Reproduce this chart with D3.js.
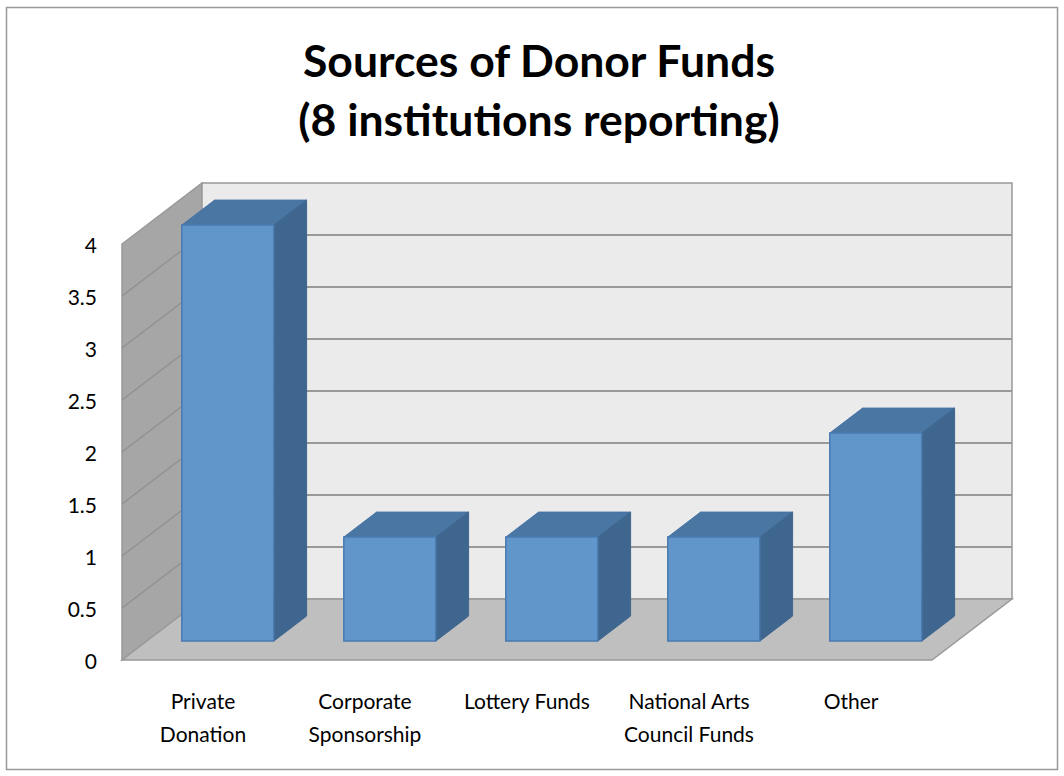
<!DOCTYPE html>
<html>
<head>
<meta charset="utf-8">
<script src="https://cdn.jsdelivr.net/npm/d3@7"></script>
<style>
  html, body { margin: 0; padding: 0; background: #fff; }
  svg { display: block; }
  text { font-family: Lato, "Open Sans", sans-serif; fill: #000; }
</style>
</head>
<body>
<svg id="chart" width="1064" height="776"></svg>
<script>
// Chart data
const categories = [
  ["Private", "Donation"],
  ["Corporate", "Sponsorship"],
  ["Lottery Funds"],
  ["National Arts", "Council Funds"],
  ["Other"]
];
const values = [4, 1, 1, 1, 2];
const tickValues = [0, 0.5, 1, 1.5, 2, 2.5, 3, 3.5, 4];
const titleLines = ["Sources of Donor Funds", "(8 institutions reporting)"];

const svg = d3.select("#chart");

// Frame
svg.append("rect")
  .attr("x", 6.5).attr("y", 7.5).attr("width", 1051).attr("height", 762)
  .attr("fill", "#fff").attr("stroke", "#999").attr("stroke-width", 1.5);

// Title
svg.append("g").selectAll("text").data(titleLines).join("text")
  .attr("x", 539).attr("y", (d, i) => 77 + i * 59)
  .attr("text-anchor", "middle")
  .attr("font-weight", "bold").attr("font-size", 44.5)
  .text(d => d);

// 3D layout: front plane + depth offset
const front = { left: 122, right: 932, bottom: 660 };
const depth = { dx: 80, dy: -61 };
const y = d3.scaleLinear().domain([0, 4]).range([front.bottom, front.bottom - 416]);
const x = d3.scaleBand().domain(d3.range(categories.length)).range([front.left, front.right]).padding(0);

// project (screen x on front plane, value, depth fraction 0..1)
const P = (px, v, z) => [px + z * depth.dx, y(v) + z * depth.dy];
const poly = pts => "M" + pts.map(p => p.join(",")).join("L") + "Z";
const line = pts => "M" + pts.map(p => p.join(",")).join("L");

const walls = svg.append("g");
const yMax = 4;
// Side wall
walls.append("path")
  .attr("d", poly([P(front.left, 0, 0), P(front.left, yMax, 0), P(front.left, yMax, 1), P(front.left, 0, 1)]))
  .attr("fill", "#a6a6a6").attr("stroke", "#999").attr("stroke-width", 1.5);
// Back wall
walls.append("path")
  .attr("d", poly([P(front.left, 0, 1), P(front.left, yMax, 1), P(front.right, yMax, 1), P(front.right, 0, 1)]))
  .attr("fill", "#ebebeb").attr("stroke", "#999").attr("stroke-width", 1.5);
// Floor
walls.append("path")
  .attr("d", poly([P(front.left, 0, 0), P(front.left, 0, 1), P(front.right, 0, 1), P(front.right, 0, 0)]))
  .attr("fill", "#bfbfbf").attr("stroke", "#999").attr("stroke-width", 1.5);

// Gridlines on back and side walls
const inner = tickValues.filter(v => v > 0 && v < yMax);
const grid = svg.append("g").attr("fill", "none");
grid.selectAll("path.back").data(inner).join("path")
  .attr("class", "back").attr("stroke", "#999").attr("stroke-width", 2)
  .attr("d", v => line([P(front.left, v, 1), P(front.right, v, 1)]));
grid.selectAll("path.side").data(inner).join("path")
  .attr("class", "side").attr("stroke", "#8f8f8f").attr("stroke-width", 1.2)
  .attr("d", v => line([P(front.left, v, 0), P(front.left, v, 1)]));

// Y tick labels
svg.append("g").selectAll("text").data(tickValues).join("text")
  .attr("x", 97).attr("y", v => y(v) + 0.5)
  .attr("text-anchor", "end").attr("dominant-baseline", "central")
  .attr("font-size", 21)
  .text(v => String(v));

// Bars
const z0 = 0.31, z1 = 0.72;
const barW = 92;
const bars = svg.append("g").selectAll("g").data(values).join("g");
const bx = i => x(i) + (x.bandwidth() - barW) / 2;
bars.append("path") // top
  .attr("d", (v, i) => poly([P(bx(i), v, z0), P(bx(i), v, z1), P(bx(i) + barW, v, z1), P(bx(i) + barW, v, z0)]))
  .attr("fill", "#4a76a4").attr("stroke", "#4674a6").attr("stroke-width", 1);
bars.append("path") // side
  .attr("d", (v, i) => poly([P(bx(i) + barW, 0, z0), P(bx(i) + barW, v, z0), P(bx(i) + barW, v, z1), P(bx(i) + barW, 0, z1)]))
  .attr("fill", "#3f668e").attr("stroke", "#3f668e").attr("stroke-width", 1);
bars.append("path") // front
  .attr("d", (v, i) => poly([P(bx(i), 0, z0), P(bx(i), v, z0), P(bx(i) + barW, v, z0), P(bx(i) + barW, 0, z0)]))
  .attr("fill", "#6096ca").attr("stroke", "#4a7bb0").attr("stroke-width", 1.5);

// Category labels
const labels = svg.append("g").selectAll("text").data(categories).join("text")
  .attr("x", (d, i) => x(i) + x.bandwidth() / 2)
  .attr("y", 709)
  .attr("text-anchor", "middle").attr("font-size", 21);
labels.selectAll("tspan").data(d => d).join("tspan")
  .attr("x", function () { return d3.select(this.parentNode).attr("x"); })
  .attr("dy", (d, i) => i === 0 ? 0 : 33)
  .text(d => d);
</script>
</body>
</html>
